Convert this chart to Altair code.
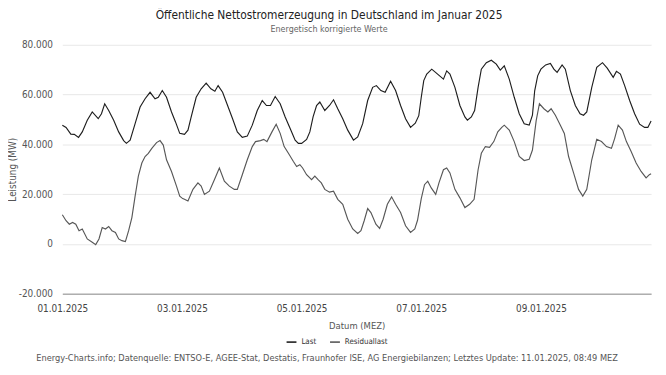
import altair as alt
import pandas as pd

TITLE = "Öffentliche Nettostromerzeugung in Deutschland im Januar 2025"
SUBTITLE = "Energetisch korrigierte Werte"
FOOTER = ("Energy-Charts.info; Datenquelle: ENTSO-E, AGEE-Stat, Destatis, Fraunhofer ISE, "
          "AG Energiebilanzen; Letztes Update: 11.01.2025, 08:49 MEZ")
X_TITLE = "Datum (MEZ)"
Y_TITLE = "Leistung (MW)"
SERIES = ["Last", "Residuallast"]
COLORS = ["#1e1e1e", "#575757"]

# hours after 01.01.2025 00:00 and values in GW
last_hours = [0, 1.5, 3.4, 4.8, 6.5, 8, 10, 12, 14.4, 15.7, 17, 18.6, 20.6, 22.6, 24.6, 25.7,
              27.2, 29.2, 31.2, 33.2, 35.2, 37.2, 38.5, 40.1, 41.8, 43.8, 45.4, 47.1,
              49, 50.4, 51.7, 53.7, 55.7, 57.7, 59.6, 61.2, 62.5, 64.3, 66.3, 68.3, 70.2,
              72.2, 74.2, 76.2, 78.2, 80.2, 81.9, 83.5, 85.4, 87.4, 89.4, 91.4, 93.4, 94.7,
              96, 98, 99.3, 100.6, 102, 103.3, 105.3, 107.2, 108.8, 110.5, 112.5, 114.5,
              116.8, 118.5, 120.5, 122.5, 124.5, 126, 127.8, 129.5, 131.7, 133.7, 135.7,
              137.7, 139.7, 141.6, 143, 144, 145, 146.2, 148.2, 150.2, 152.9, 154.2, 155.5,
              157.5, 159.5, 161.5, 162.5, 164.1, 165.4, 166.8, 168.1, 170.1, 172.1, 174.1,
              175.7, 177.3, 179.3, 181.3, 183.3, 185.3, 187.3, 188.6, 189.5, 190.7, 192,
              193.9, 195.8, 197.2, 198.5, 200.5, 201.8, 203.8, 205.8, 207.7, 209.1, 210.4,
              212.4, 214.4, 216.7, 218.6, 221, 222.3, 223.9, 225.6, 227.6, 229.6, 231.6,
              233.6, 234.9, 236.2]
last_gw = [47.7, 46.8, 44.1, 44.0, 42.8, 45.0, 49.7, 53.0, 50.3, 52.3, 56.3, 53.6, 49.7, 45.0,
           41.5, 40.4, 41.7, 48.3, 55.0, 58.3, 60.9, 58.3, 58.9, 61.6, 58.9, 53.0, 49.0, 44.4,
           44.0, 45.7, 51.0, 58.9, 62.3, 64.6, 62.3, 61.3, 63.6, 60.9, 55.6, 50.3, 45.0,
           42.8, 43.3, 47.7, 53.6, 57.6, 55.6, 55.6, 59.2, 56.3, 51.0, 46.4, 41.7, 40.4,
           40.4, 42.0, 45.0, 51.0, 55.6, 57.0, 53.6, 55.6, 57.9, 54.3, 50.3, 45.7,
           41.7, 43.0, 48.3, 57.6, 62.9, 63.6, 61.6, 60.9, 65.3, 61.6, 55.6,
           50.3, 46.8, 48.5, 51.5, 58.9, 65.6, 68.2, 70.2, 68.5, 66.2, 69.5, 68.2,
           62.9, 55.6, 51.0, 49.7, 51.0, 53.6, 62.9, 70.2, 72.8, 73.8, 72.2,
           69.8, 71.5, 66.2, 58.9, 52.3, 48.3, 47.7, 51.7, 61.5, 67.5, 70.2,
           71.9, 72.5, 70.2, 68.9, 71.9, 70.2, 61.6, 55.6, 52.3, 51.7, 53.0,
           62.9, 70.9, 72.8, 70.6, 66.9, 69.3, 68.2, 63.6, 57.6, 52.3, 48.1,
           46.8, 46.8, 49.4]

res_hours = [0, 1.5, 2.8, 4.1, 5.4, 6.7, 8, 10, 12, 13.4, 14.7, 16, 17.3, 18.6, 19.9, 21.3,
             22.6, 23.9, 25.3, 26.6, 27.9, 29.2, 30.5, 31.9, 33.2, 34.5, 35.9, 37.8, 39.2,
             40.5, 41.8, 43.8, 45.8, 47.1, 48.3, 49, 50.4, 52.4, 54.4, 55.7, 57, 59, 61, 63,
             65, 67, 69, 70.2, 72.2, 74.2, 76.2, 77.5, 79.5, 80.8, 82.1, 84.1, 85.8, 87.4,
             89, 90.7, 92.7, 94, 95.3, 96.4, 98, 100, 101.3, 102.6, 103.9, 105.3, 107.2,
             108.8, 110.5, 112.5, 114.5, 116.5, 118.5, 119.8, 121.1, 122.5, 123.8, 125.8,
             127.3, 128.7, 130.4, 132.1, 133.7, 135.7, 137.7, 139.7, 141.4, 142.5, 144,
             145.3, 146.6, 148, 149.8, 151.1, 152.9, 154.2, 155.5, 157.5, 159.5, 161.5,
             163.4, 165.2, 166.8, 168.1, 169.7, 171.4, 173.1, 174.7, 176.3, 177.3, 179.3,
             181.3, 183.3, 185.3, 187.3, 188.6, 190.1, 191.4, 193.2, 194.8, 196.1, 197.8,
             199.8, 201.4, 203.1, 205.1, 207.1, 208.8, 210.4, 212.4, 214.4, 216.3, 218.3,
             220.3, 221.6, 223, 224.7, 226.3, 228.2, 230.2, 232.2, 234.2, 235.5, 236.2]
res_gw = [11.7, 9.3, 7.9, 8.6, 7.9, 5.3, 6.0, 2.0, 0.7, -0.3, 2.0, 6.6, 6.0, 7.0, 5.3, 4.6,
          2.0, 1.3, 0.9, 5.3, 10.6, 19.2, 27.2, 32.5, 35.1, 36.4, 38.4, 40.7, 41.5,
          39.7, 33.8, 29.1, 23.2, 19.2, 18.2, 17.9, 17.2, 21.9, 24.5, 23.2, 19.9, 21.2, 25.8, 30.5,
          25.2, 23.2, 21.9, 21.9, 27.8, 33.8, 39.1, 41.1, 41.5, 42.0, 41.1, 45.0, 48.1, 44.4,
          39.1, 36.4, 33.1, 31.1, 31.8, 30.5, 27.8, 25.8, 27.2, 25.8, 24.5, 21.9, 20.8,
          21.2, 17.9, 15.9, 9.9, 6.0, 4.2, 5.3, 9.3, 14.2, 12.6, 7.9,
          6.2, 9.9, 15.9, 18.9, 15.9, 12.6, 7.3, 4.6, 6.0, 9.5, 18.2,
          23.8, 25.2, 22.5, 19.9, 24.5, 29.8, 30.5, 28.5, 21.9, 18.5, 14.6,
          15.9, 17.9, 29.8, 36.4, 39.1, 38.8, 41.1, 45.0, 46.8, 47.7, 45.7,
          41.1, 35.1, 33.5, 34.0, 37.7, 49.5, 56.3, 54.3, 53.0, 54.3, 51.7,
          47.7, 44.4, 35.1, 28.5, 21.9, 19.2, 21.9, 33.8, 42.0, 41.1, 39.1,
          38.4, 42.4, 47.7, 45.7, 41.1, 37.1, 32.5, 29.1, 26.5, 27.8, 28.2]

y_ticks = [-20000, 0, 20000, 40000, 60000, 80000]
x_tick_days = [1, 3, 5, 7, 9]

FONT = "Liberation Sans Narrow, DejaVu Sans Condensed, Lato"

base = pd.Timestamp("2025-01-01 00:00:00")
frames = []
for name, hrs, vals in [(SERIES[0], last_hours, last_gw), (SERIES[1], res_hours, res_gw)]:
    frames.append(pd.DataFrame({
        "Zeit": (base + pd.to_timedelta(hrs, unit="h")).strftime("%Y-%m-%dT%H:%M:%S"),
        "Wert": [v * 1000 for v in vals],
        "Reihe": name,
    }))
df = pd.concat(frames, ignore_index=True)

W, H = 596, 252

lines = alt.Chart(df).mark_line(strokeWidth=1.15).encode(
    x=alt.X(
        "Zeit:T",
        scale=alt.Scale(nice=False),
        axis=alt.Axis(
            title=X_TITLE,
            values=[alt.DateTime(year=2025, month=1, date=d) for d in x_tick_days],
            format="%d.%m.%Y",
            grid=False,
            ticks=False,
            labelFlush=False,
            labelBound=False,
            domainColor="#8c8c8c",
            labelPadding=10,
            labelFontSize=10,
            labelColor="#444",
            titleFontSize=9.5,
            titleFontWeight="normal",
            titleColor="#555",
            titleY=32,
            titleBaseline="middle",
        ),
    ),
    y=alt.Y(
        "Wert:Q",
        scale=alt.Scale(domain=[-20000, 80000], nice=False, zero=False),
        axis=alt.Axis(
            title=Y_TITLE,
            values=y_ticks,
            labelExpr="replace(replace(format(datum.value, ','), ',', '.'), '\u2212', '-')",
            domain=False,
            ticks=False,
            gridColor="#e8e8e8",
            labelPadding=10,
            labelFontSize=10,
            labelColor="#555",
            titleFontSize=10,
            titleFontWeight="normal",
            titleColor="#555",
            titleX=-50,
            titleBaseline="middle",
        ),
    ),
    color=alt.Color(
        "Reihe:N",
        scale=alt.Scale(domain=SERIES, range=COLORS),
        legend=alt.Legend(
            title=None,
            orient="none",
            legendX=226,
            legendY=295,
            direction="horizontal",
            symbolType="stroke",
            symbolSize=100,
            symbolStrokeWidth=1.6,
            labelFontSize=8,
            labelColor="#333",
            labelOffset=4,
            columnPadding=10,
        ),
    ),
)

footer = alt.Chart(pd.DataFrame({"t": [FOOTER]})).mark_text(
    fontSize=9.3, color="#555", align="center", baseline="middle", font=FONT
).encode(x=alt.value(268), y=alt.value(317), text="t:N")

chart = alt.layer(lines, footer).properties(
    width=W,
    height=H,
    autosize=alt.AutoSizeParams(type="none"),
    padding={"left": 55, "top": 35, "right": 7, "bottom": 72},
    title=alt.TitleParams(
        TITLE,
        subtitle=SUBTITLE,
        anchor="middle",
        dx=-28,
        offset=5,
        fontSize=12,
        fontWeight="normal",
        color="#222",
        font=FONT,
        subtitleFont=FONT,
        subtitleFontSize=9,
        subtitleColor="#666",
        subtitlePadding=3,
    ),
).configure_view(stroke=None).configure_axis(labelFont=FONT, titleFont=FONT).configure_legend(
    labelFont=FONT
)

chart.save("out.html", embed_options={"renderer": "svg", "actions": False})
